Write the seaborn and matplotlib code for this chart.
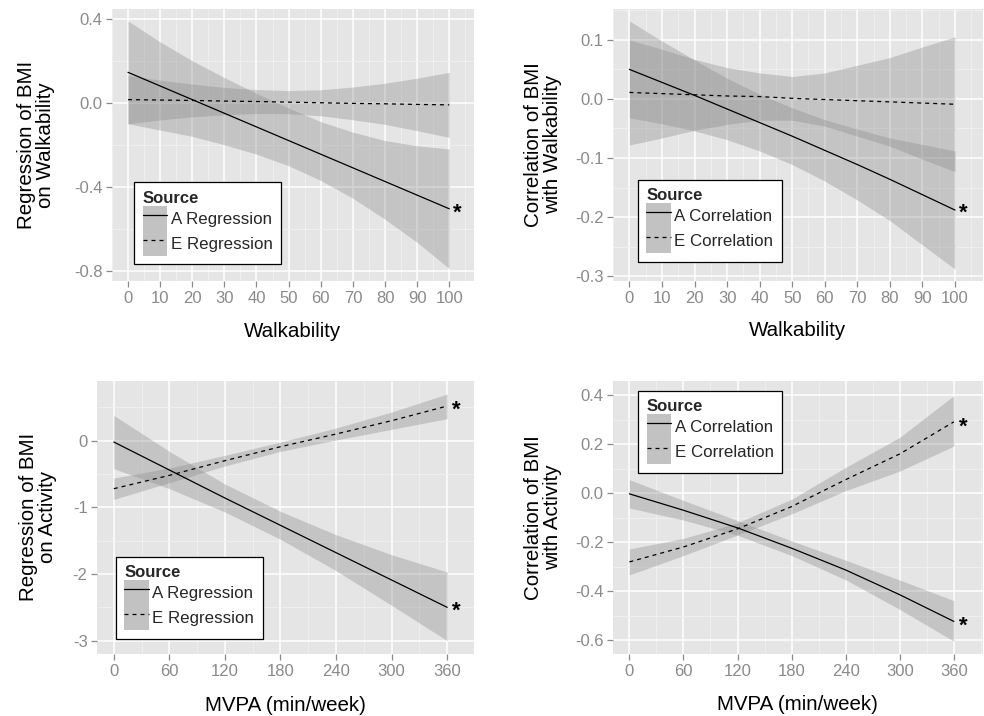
import numpy as np
import pandas as pd
import matplotlib
matplotlib.use("Agg")
import matplotlib.pyplot as plt
import seaborn as sns
from matplotlib.patches import Patch
from matplotlib.lines import Line2D
from matplotlib.ticker import MultipleLocator, FixedLocator

# ---------------- data ----------------
walk_x = [0, 10, 20, 30, 40, 50, 60, 70, 80, 90, 100]
mvpa_x = [0, 60, 120, 180, 240, 300, 360]

# Top-left: Regression of BMI on Walkability
tl_a_mid = [0.145, 0.08, 0.015, -0.05, -0.115, -0.18, -0.245, -0.31, -0.375, -0.44, -0.505]
tl_a_lo = [-0.10, -0.13, -0.16, -0.20, -0.245, -0.30, -0.37, -0.455, -0.555, -0.665, -0.79]
tl_a_hi = [0.39, 0.29, 0.20, 0.12, 0.045, -0.025, -0.09, -0.14, -0.18, -0.205, -0.22]
tl_e_mid = [0.015, 0.013, 0.011, 0.008, 0.006, 0.003, 0.0, -0.003, -0.005, -0.008, -0.01]
tl_e_lo = [-0.10, -0.082, -0.067, -0.057, -0.051, -0.052, -0.062, -0.081, -0.103, -0.133, -0.165]
tl_e_hi = [0.13, 0.108, 0.089, 0.073, 0.063, 0.058, 0.062, 0.075, 0.093, 0.117, 0.145]

# Top-right: Correlation of BMI with Walkability
tr_a_mid = [0.05, 0.028, 0.006, -0.017, -0.04, -0.063, -0.087, -0.111, -0.136, -0.162, -0.188]
tr_a_lo = [-0.032, -0.042, -0.054, -0.069, -0.088, -0.111, -0.139, -0.171, -0.206, -0.247, -0.288]
tr_a_hi = [0.132, 0.098, 0.066, 0.035, 0.008, -0.015, -0.035, -0.051, -0.066, -0.077, -0.088]
tr_e_mid = [0.011, 0.009, 0.007, 0.005, 0.004, 0.001, -0.001, -0.003, -0.005, -0.007, -0.009]
tr_e_lo = [-0.078, -0.066, -0.053, -0.043, -0.036, -0.036, -0.046, -0.063, -0.08, -0.102, -0.123]
tr_e_hi = [0.10, 0.084, 0.067, 0.053, 0.044, 0.038, 0.044, 0.057, 0.07, 0.088, 0.105]

# Bottom-left: Regression of BMI on Activity
bl_a_mid = [-0.02, -0.44, -0.86, -1.27, -1.68, -2.09, -2.5]
bl_a_lo = [-0.42, -0.72, -1.07, -1.48, -1.95, -2.47, -3.0]
bl_a_hi = [0.38, -0.16, -0.65, -1.06, -1.41, -1.71, -1.97]
bl_e_mid = [-0.72, -0.52, -0.30, -0.09, 0.10, 0.30, 0.52]
bl_e_lo = [-0.88, -0.63, -0.38, -0.16, 0.01, 0.17, 0.33]
bl_e_hi = [-0.56, -0.41, -0.22, -0.02, 0.19, 0.43, 0.70]

# Bottom-right: Correlation of BMI with Activity
br_a_mid = [-0.003, -0.07, -0.142, -0.225, -0.314, -0.415, -0.524]
br_a_lo = [-0.061, -0.11, -0.172, -0.255, -0.354, -0.475, -0.605]
br_a_hi = [0.055, -0.03, -0.112, -0.195, -0.274, -0.355, -0.439]
br_e_mid = [-0.281, -0.22, -0.146, -0.055, 0.055, 0.160, 0.291]
br_e_lo = [-0.334, -0.255, -0.171, -0.085, 0.01, 0.09, 0.192]
br_e_hi = [-0.228, -0.185, -0.121, -0.025, 0.105, 0.228, 0.398]

reg_labels = ["A Regression", "E Regression"]
cor_labels = ["A Correlation", "E Correlation"]

walk_ticks = [0, 10, 20, 30, 40, 50, 60, 70, 80, 90, 100]
mvpa_ticks = [0, 60, 120, 180, 240, 300, 360]
tl_yticks = [-0.8, -0.4, 0.0, 0.4]
tr_yticks = [-0.3, -0.2, -0.1, 0.0, 0.1]
bl_yticks = [-3, -2, -1, 0]
br_yticks = [-0.6, -0.4, -0.2, 0.0, 0.2, 0.4]

# ---------------- style ----------------
sns.set_theme(style="darkgrid", rc={
    "axes.facecolor": "#E5E5E5",
    "grid.color": "white",
    "axes.edgecolor": "#E5E5E5",
    "axes.axisbelow": True,
})
plt.rcParams["font.family"] = ["Liberation Sans", "DejaVu Sans"]

RIB = "#8C8C8C"
RIB_ALPHA = 0.36
TICKC = "#8A8A8A"

fig = plt.figure(figsize=(9.84, 7.16), dpi=100)
W, H = 984.0, 716.0


def add_ax(left, top, right, bottom):
    return fig.add_axes([left / W, (H - bottom) / H, (right - left) / W, (bottom - top) / H])


def panel(ax, x, a_mid, a_lo, a_hi, e_mid, e_lo, e_hi, labels, xticks, yticks, yfmt,
          xlim, ylim, xminor, yminor, xlabel, ylabel, ylab_x, xlab_y,
          leg_loc, leg_anchor):
    ax.fill_between(x, a_lo, a_hi, color=RIB, alpha=RIB_ALPHA, lw=0, zorder=2)
    ax.fill_between(x, e_lo, e_hi, color=RIB, alpha=RIB_ALPHA, lw=0, zorder=2)
    n = len(x)
    df = pd.DataFrame({
        "x": list(x) * 2,
        "y": list(a_mid) + list(e_mid),
        "Source": [labels[0]] * n + [labels[1]] * n,
    })
    sns.lineplot(data=df, x="x", y="y", style="Source",
                 dashes={labels[0]: "", labels[1]: (3.2, 3.2)},
                 color="black", linewidth=0.9, legend=False, ax=ax,
                 errorbar=None, zorder=3)
    ax.set_xlim(*xlim)
    ax.set_ylim(*ylim)
    ax.xaxis.set_major_locator(FixedLocator(xticks))
    ax.yaxis.set_major_locator(FixedLocator(yticks))
    ax.set_xticklabels([str(t) for t in xticks])
    ax.set_yticklabels([yfmt.format(t) for t in yticks])
    ax.xaxis.set_minor_locator(MultipleLocator(xminor))
    ax.yaxis.set_minor_locator(yminor)
    ax.grid(which="major", color="white", lw=1.1)
    ax.grid(which="minor", color="#F2F2F2", lw=0.5)
    ax.tick_params(which="major", axis="both", length=4.3, width=0.9, color=TICKC,
                   labelcolor=TICKC, labelsize=12, bottom=True, left=True)
    ax.tick_params(which="major", axis="x", pad=3.0)
    ax.tick_params(which="major", axis="y", pad=2.3)
    ax.tick_params(which="minor", length=0)
    for s in ax.spines.values():
        s.set_visible(False)
    ax.set_xlabel(xlabel, fontsize=14.8, color="black")
    ax.set_ylabel(ylabel, fontsize=14.8, color="black", linespacing=1.0)
    ax.yaxis.set_label_coords(ylab_x, 0.5)
    ax.xaxis.set_label_coords(0.5, xlab_y)
    handles = [
        (Patch(facecolor="#C2C2C2", edgecolor="none"), Line2D([], [], color="black", lw=0.9)),
        (Patch(facecolor="#C2C2C2", edgecolor="none"),
         Line2D([], [], color="black", lw=0.9, ls=(0, (3.2, 3.2)))),
    ]
    leg = ax.legend(handles, labels, title="Source", loc=leg_loc, bbox_to_anchor=leg_anchor,
                    fontsize=12.2, title_fontproperties={"weight": "bold", "size": 12},
                    frameon=True, fancybox=False, framealpha=1, facecolor="white",
                    edgecolor="black", handlelength=1.45, handleheight=1.9,
                    labelspacing=0.0, handletextpad=0.2, borderpad=0.5,
                    borderaxespad=0.0, alignment="left")
    leg.get_frame().set_linewidth(0.9)
    leg.set_zorder(5)
    return ax


def star(ax, x, y):
    ax.text(x, y, "*", fontsize=16, fontweight="bold", ha="center", va="center",
            color="black", zorder=4)


# Top-left
ax1 = add_ax(111.5, 8.5, 474, 281)
panel(ax1, walk_x, tl_a_mid, tl_a_lo, tl_a_hi, tl_e_mid, tl_e_lo, tl_e_hi, reg_labels,
      walk_ticks, tl_yticks, "{:.1f}", (-5.13, 107.7), (-0.849, 0.449), 5,
      FixedLocator([-0.6, -0.2, 0.2]), "Walkability", "Regression of BMI\non Walkability",
      -0.155, -0.150, "lower left", (0.063, 0.061))
star(ax1, walk_x[-1] + 2.5, tl_a_mid[-1] - 0.02)

# Top-right
ax2 = add_ax(612.7, 8.5, 982.7, 281)
panel(ax2, walk_x, tr_a_mid, tr_a_lo, tr_a_hi, tr_e_mid, tr_e_lo, tr_e_hi, cor_labels,
      walk_ticks, tr_yticks, "{:.1f}", (-5.13, 108.5), (-0.308, 0.153), 5,
      FixedLocator([-0.25, -0.15, -0.05, 0.05, 0.15]), "Walkability",
      "Correlation of BMI\nwith Walkability",
      -0.137, -0.145, "lower left", (0.068, 0.07))
star(ax2, walk_x[-1] + 2.5, tr_a_mid[-1] - 0.006)

# Bottom-left
ax3 = add_ax(96.7, 380.7, 474, 654)
panel(ax3, mvpa_x, bl_a_mid, bl_a_lo, bl_a_hi, bl_e_mid, bl_e_lo, bl_e_hi, reg_labels,
      mvpa_ticks, bl_yticks, "{:d}", (-18.5, 389), (-3.2, 0.9), 30,
      FixedLocator([-2.5, -1.5, -0.5, 0.5]), "MVPA (min/week)",
      "Regression of BMI\non Activity",
      -0.105, -0.155, "lower left", (0.051, 0.055))
star(ax3, mvpa_x[-1] + 10, bl_a_mid[-1] - 0.06)
star(ax3, mvpa_x[-1] + 10, bl_e_mid[-1] - 0.06)

# Bottom-right
ax4 = add_ax(612.7, 380.7, 982.7, 654)
panel(ax4, mvpa_x, br_a_mid, br_a_lo, br_a_hi, br_e_mid, br_e_lo, br_e_hi, cor_labels,
      mvpa_ticks, br_yticks, "{:.1f}", (-18.5, 392), (-0.657, 0.459), 30,
      FixedLocator([-0.5, -0.3, -0.1, 0.1, 0.3]), "MVPA (min/week)",
      "Correlation of BMI\nwith Activity",
      -0.138, -0.150, "upper left", (0.069, 0.963))
star(ax4, mvpa_x[-1] + 10, br_a_mid[-1] - 0.02)
star(ax4, mvpa_x[-1] + 10, br_e_mid[-1] - 0.02)

fig.savefig("out.png", dpi=100)
